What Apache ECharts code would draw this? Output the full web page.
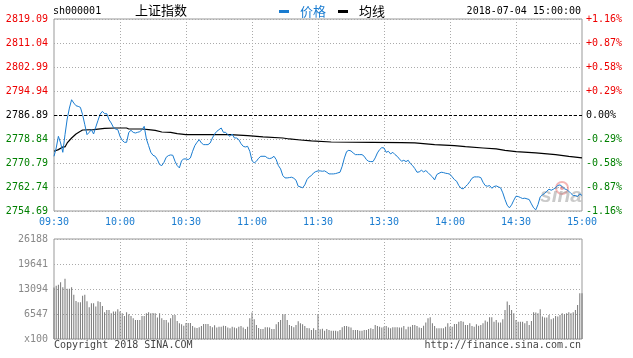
<!DOCTYPE html>
<html><head><meta charset="utf-8">
<script src="https://cdn.jsdelivr.net/npm/echarts@6/dist/echarts.min.js"></script>
<style>html,body{margin:0;padding:0;background:#fff}#c{width:633px;height:358px}</style>
</head><body><div id="c"></div>
<script>
const prevClose = 2786.89;
const priceMin = 2754.69, priceMax = 2819.09, priceStep = 8.05;
const volMax = 26188, volStep = 6547;
const tickLabels = ['09:30','10:00','10:30','11:00','11:30','13:30','14:00','14:30','15:00'];

const priceValues = [
2773.04,2775.83,2779.74,2777.51,2774.38,2780.30,2785.54,2789.22,2792.01,2790.90,
2790.00,2789.78,2789.45,2786.99,2783.64,2780.30,2781.08,2781.97,2780.52,2782.86,
2785.09,2787.21,2788.11,2787.33,2787.33,2785.32,2784.20,2782.75,2782.19,2781.97,
2779.74,2778.40,2777.73,2777.73,2781.08,2781.75,2781.08,2780.85,2781.08,2781.30,
2781.97,2783.09,2778.85,2776.61,2774.38,2773.38,2773.04,2771.93,2770.26,2769.92,
2771.04,2772.71,2773.27,2773.49,2773.38,2771.37,2769.92,2769.14,2771.59,2772.15,
2772.15,2771.93,2772.49,2774.72,2776.61,2777.73,2778.62,2777.51,2776.95,2776.95,
2776.95,2777.51,2779.18,2780.52,2781.41,2781.97,2782.53,2781.08,2781.08,2780.30,
2779.74,2780.52,2779.18,2779.18,2778.62,2777.28,2776.39,2776.17,2776.39,2774.72,
2771.59,2770.81,2771.37,2772.38,2773.04,2773.04,2773.04,2772.49,2772.26,2772.49,
2773.04,2771.93,2769.92,2768.80,2766.57,2765.79,2765.79,2765.90,2766.02,2765.68,
2765.01,2763.00,2762.78,2762.45,2763.45,2765.23,2766.13,2766.57,2767.47,2767.91,
2768.14,2768.14,2768.02,2768.14,2767.69,2767.13,2767.13,2767.13,2767.24,2767.47,
2767.69,2769.70,2772.49,2774.61,2775.05,2774.83,2774.16,2773.60,2773.60,2773.60,
2773.60,2773.04,2771.93,2771.37,2771.26,2771.26,2772.49,2774.16,2775.28,2775.95,
2775.83,2774.38,2774.72,2773.83,2774.38,2773.60,2773.04,2772.15,2771.37,2771.71,
2771.26,2771.71,2770.59,2769.92,2768.92,2767.69,2767.80,2768.36,2767.80,2768.25,
2767.58,2766.80,2766.13,2765.12,2766.91,2767.35,2767.69,2767.58,2767.35,2767.24,
2767.02,2766.13,2765.23,2764.68,2763.23,2762.33,2762.11,2762.89,2763.56,2764.57,
2765.68,2766.13,2766.13,2766.13,2765.90,2764.34,2763.23,2763.00,2763.23,2762.33,
2762.89,2763.11,2762.78,2762.45,2760.77,2758.54,2756.64,2755.75,2756.75,2758.32,
2759.66,2759.54,2759.21,2758.87,2758.99,2758.76,2758.54,2757.09,2755.75,2755.08,
2756.87,2759.43,2760.10,2760.55,2761.33,2762.00,2761.66,2762.00,2762.56,2763.23,
2763.45,2762.89,2762.11,2761.89,2761.33,2760.55,2759.88,2759.88,2759.54,2760.44,
2759.88
];

const avgTimes = ['09:30','09:32','09:34','09:35','09:36','09:38','09:40','09:42','09:43','09:48','09:53','09:58','10:03','10:04','10:10','10:13','10:16','10:19','10:23','10:26','10:30','10:50','10:58','11:05','11:14','11:17','11:22','11:27','13:06','13:25','13:38','13:44','13:53','14:02','14:07','14:15','14:21','14:25','14:30','14:39','14:48','14:54','15:00'];
const avgValues = [2774.72,2775.28,2776.17,2776.17,2777.51,2779.18,2780.52,2781.41,2781.86,2781.97,2782.42,2782.53,2782.53,2782.19,2782.19,2781.97,2781.75,2781.19,2781.08,2780.63,2780.30,2780.30,2779.96,2779.52,2779.18,2778.85,2778.51,2778.18,2777.84,2777.73,2777.62,2777.51,2776.95,2776.61,2776.28,2775.83,2775.50,2775.05,2774.61,2774.16,2773.60,2773.04,2772.49];

const volumeValues = [
13500,13920,14190,14890,13570,15760,13130,13130,13570,11560,
9980,9630,9630,11300,11560,9890,8320,9370,9370,8490,
9890,9720,8670,7000,7620,7620,6740,7180,7180,7790,
7180,6740,6040,7000,6480,6040,5430,4990,4990,4990,
6040,6040,6740,7000,6740,6830,6740,5600,6740,5430,
4990,4990,4290,5430,6300,6300,4730,4120,3850,3500,
4200,4200,4200,3420,2980,2890,3070,3420,3940,3940,
3940,3420,3070,3590,2980,3240,3240,3500,3420,2980,
2800,3240,2980,2800,3240,3420,2980,2630,3240,5430,
6920,5170,3680,2890,2630,2630,3070,3070,2980,2630,
2630,3850,4470,4990,6480,6480,4990,3680,3420,3070,
3680,4640,4120,3850,3420,2890,2800,2360,2800,2360,
6570,2540,2710,2190,2630,2360,2190,2190,2190,2010,
2360,3070,3420,3420,3240,2980,2360,2360,2360,2190,
2190,2360,2360,2630,2800,2630,3680,3420,3240,2980,
3240,3420,2980,2800,3070,3070,3070,2980,2980,3420,
2540,3240,3240,3680,3680,3420,2980,2890,3500,4290,
5430,5690,4120,3420,2800,2800,2800,2800,3240,4120,
3240,3240,3940,3940,4550,4730,4550,3680,3680,4120,
3420,3240,3850,3500,3680,4120,4820,4550,5690,5690,
4550,4990,4290,4290,5170,7620,9810,8930,7620,6740,
4990,4550,4550,4550,4120,4730,3680,4730,7000,6920,
6740,7790,5870,5600,5600,6300,5170,5430,6040,5870,
6300,6740,6480,6740,7000,6740,7000,7620,8930,12000,
12000
];

// trading-minute categories: 09:30-11:30, 13:01-15:00
function hm(t){const h=Math.floor(t/60),m=t%60;return (h<10?'0':'')+h+':'+(m<10?'0':'')+m;}
const times = [];
for (let t = 9*60+30; t <= 11*60+30; t++) times.push(hm(t));
for (let t = 13*60+1; t <= 15*60; t++) times.push(hm(t));

const MONO = 'DejaVu Sans Mono';
const CJK = 'Noto Sans CJK SC';
const BLUE = '#1a7cd0';
const RED = '#ee0000', GREEN = '#008000';
function priceColor(v){v=Number(v);if(Math.abs(v-prevClose)<0.005)return '#000';return v>prevClose?RED:GREEN;}
const isTick = (i)=> tickLabels.indexOf(times[i]) >= 0;
const innerTick = (i)=> isTick(i) && i>0 && i<times.length-1;

const chart = echarts.init(document.getElementById('c'), null, {renderer:'canvas'});
chart.setOption({
  animation:false,
  backgroundColor:'#fff',
  title:[
    {text:'sh000001', left:53, top:6, padding:0, textStyle:{fontFamily:MONO,fontSize:10,fontWeight:'normal',color:'#000'}},
    {text:'上证指数', left:135, top:4, padding:0, textStyle:{fontFamily:CJK,fontSize:13,fontWeight:'normal',color:'#000'}},
    {text:'2018-07-04 15:00:00', right:52, top:6, padding:0, textStyle:{fontFamily:MONO,fontSize:10,fontWeight:'normal',color:'#000'}},
    {text:'Copyright 2018 SINA.COM', left:54, top:340, padding:0, textStyle:{fontFamily:MONO,fontSize:10,fontWeight:'normal',color:'#444'}},
    {text:'http://finance.sina.com.cn', right:52, top:340, padding:0, textStyle:{fontFamily:MONO,fontSize:10,fontWeight:'normal',color:'#444'}}
  ],
  legend:{
    left:279, top:5, padding:0, itemWidth:10, itemHeight:3, itemGap:12, icon:'rect',
    data:[{name:'价格',textStyle:{color:BLUE}},{name:'均线',textStyle:{color:'#000'}}],
    textStyle:{fontFamily:CJK,fontSize:13,padding:[0,0,0,6]}
  },
  graphic:[
    {type:'circle', shape:{cx:562, cy:188, r:6}, z:1, style:{fill:'none', stroke:'rgba(235,120,120,0.55)', lineWidth:2}},
    {type:'circle', shape:{cx:562, cy:188, r:2}, z:1, style:{fill:'rgba(220,90,90,0.55)'}},
    {type:'text', right:51, top:186, z:1, style:{text:'sina', font:'italic bold 21px "Liberation Sans"', fill:'rgba(150,150,150,0.5)'}}
  ],
  grid:[
    {left:54, top:19, width:528, height:192, show:true, borderColor:'#999', borderWidth:1, backgroundColor:'transparent'},
    {left:54, top:239, width:528, height:100, show:true, borderColor:'#999', borderWidth:1, backgroundColor:'transparent'}
  ],
  xAxis:[
    {type:'category', gridIndex:0, data:times, boundaryGap:false,
     axisLine:{show:false}, axisTick:{show:false},
     axisLabel:{interval:(i)=>isTick(i), color:BLUE, fontFamily:MONO, fontSize:10, margin:6, showMinLabel:true, showMaxLabel:true},
     splitLine:{show:true, interval:(i)=>innerTick(i), lineStyle:{color:'#aaa', type:[1,2], width:1}}},
    {type:'category', gridIndex:1, data:times, boundaryGap:false,
     axisLine:{show:false}, axisTick:{show:false}, axisLabel:{show:false},
     splitLine:{show:true, interval:(i)=>innerTick(i), lineStyle:{color:'#aaa', type:[1,2], width:1}}}
  ],
  yAxis:[
    {type:'value', gridIndex:0, min:priceMin, max:priceMax, interval:priceStep, position:'left',
     axisLine:{show:false}, axisTick:{show:false},
     axisLabel:{formatter:(v)=>Number(v).toFixed(2), color:(v)=>priceColor(v), fontFamily:MONO, fontSize:10, margin:6},
     splitLine:{show:true, lineStyle:{color:'#aaa', type:[1,2], width:1}}},
    {type:'value', gridIndex:0, min:priceMin, max:priceMax, interval:priceStep, position:'right',
     axisLine:{show:false}, axisTick:{show:false},
     axisLabel:{formatter:(v)=>{const p=(Number(v)/prevClose-1)*100; const s=p.toFixed(2); return (p>0.005?'+':'')+(Math.abs(p)<0.005?'0.00':s)+'%';}, color:(v)=>priceColor(v), fontFamily:MONO, fontSize:10, margin:4},
     splitLine:{show:false}},
    {type:'value', gridIndex:1, min:0, max:volMax, interval:volStep,
     axisLine:{show:false}, axisTick:{show:false},
     axisLabel:{formatter:(v)=>Number(v)===0?'x100':String(v), color:'#888', fontFamily:MONO, fontSize:10, margin:6},
     splitLine:{show:true, lineStyle:{color:'#aaa', type:[1,2], width:1}}}
  ],
  series:[
    {name:'价格', type:'line', xAxisIndex:0, yAxisIndex:0, data:priceValues, symbol:'none', z:4,
     lineStyle:{color:BLUE, width:1}, itemStyle:{color:BLUE},
     markLine:{silent:true, symbol:'none', label:{show:false}, lineStyle:{color:'#000', type:[3,2], width:1},
       data:[{yAxis:prevClose}]}},
    {name:'均线', type:'line', xAxisIndex:0, yAxisIndex:0, data:avgTimes.map((t,i)=>[t,avgValues[i]]), symbol:'none', z:3,
     lineStyle:{color:'#000', width:1.2}, itemStyle:{color:'#000'}},
    {name:'成交量', type:'bar', xAxisIndex:1, yAxisIndex:2, data:volumeValues, barWidth:1,
     itemStyle:{color:'#777'}}
  ]
});
</script></body></html>
